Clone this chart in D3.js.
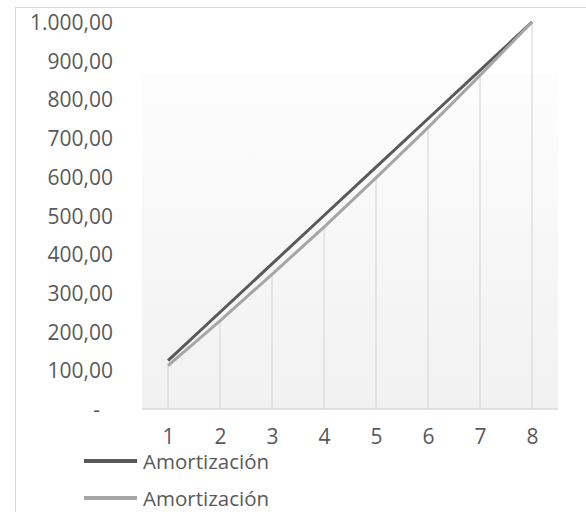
<!DOCTYPE html>
<html>
<head>
<meta charset="utf-8">
<script src="https://cdn.jsdelivr.net/npm/d3@7"></script>
<style>
  html, body { margin: 0; padding: 0; background: #ffffff; }
  svg { display: block; }
  text { font-family: "Open Sans", "Noto Sans", sans-serif; fill: #595959; }
</style>
</head>
<body>
<svg id="chart" width="586" height="512"></svg>
<script>
// Periods and cumulative amortization for the two schedules
const periods = [1, 2, 3, 4, 5, 6, 7, 8];
const amortLinear = [125, 250, 375, 500, 625, 750, 875, 1000];
const amortFrench = [112, 228, 348, 470, 597, 727, 862, 1000];
const seriesNames = ["Amortización", "Amortización"];
const yTicks = [0, 100, 200, 300, 400, 500, 600, 700, 800, 900, 1000];

const svg = d3.select("#chart");

// Outer chart frame
svg.append("rect")
  .attr("x", 15.5).attr("y", 7.5)
  .attr("width", 600).attr("height", 600)
  .attr("fill", "#ffffff")
  .attr("stroke", "#d9d9d9").attr("stroke-width", 1);

const x = d3.scalePoint().domain(periods).range([142, 558]).padding(0.5);
const y = d3.scaleLinear().domain([0, 1000]).range([409, 22]);

// Plot area fill with soft vertical gradient
const defs = svg.append("defs");
const grad = defs.append("linearGradient")
  .attr("id", "plotBg").attr("x1", 0).attr("y1", 0).attr("x2", 0).attr("y2", 1);
grad.append("stop").attr("offset", "0%").attr("stop-color", "#fdfdfd");
grad.append("stop").attr("offset", "100%").attr("stop-color", "#f1f1f1");

svg.append("rect")
  .attr("x", 142).attr("y", 74)
  .attr("width", 416).attr("height", y(0) - 74)
  .attr("fill", "url(#plotBg)");

// Drop lines from the second series down to the category axis
svg.append("g").selectAll("line")
  .data(periods)
  .join("line")
  .attr("x1", d => x(d)).attr("x2", d => x(d))
  .attr("y1", (d, i) => y(amortFrench[i]))
  .attr("y2", y(0))
  .attr("stroke", "#d9d9d9").attr("stroke-width", 1.2);

// Category axis
const xAxis = svg.append("g")
  .attr("transform", `translate(0,${y(0)})`)
  .call(d3.axisBottom(x).tickSize(0).tickPadding(26));
xAxis.select(".domain").attr("stroke", "#d9d9d9").attr("stroke-width", 1.5)
  .attr("d", `M142,0H558`);
xAxis.selectAll("text")
  .style("font-size", "21px").style("font-family", "\"Open Sans\", sans-serif")
  .attr("fill", "#595959").attr("dy", "0.42em");

// Value axis labels (accounting style: zero shown as a dash)
const fmt = v => v === 0 ? "-" :
  d3.format(",.2f")(v).replace(/,/g, "#").replace(".", ",").replace(/#/g, ".");
const yAxis = svg.append("g")
  .attr("transform", "translate(113,0)")
  .call(d3.axisLeft(y).tickValues(yTicks).tickFormat(fmt).tickSize(0).tickPadding(0));
yAxis.select(".domain").remove();
yAxis.selectAll("text")
  .style("font-size", "21px").style("font-family", "\"Open Sans\", sans-serif")
  .attr("fill", "#595959").attr("dy", "0.36em")
  .attr("dx", d => d === 0 ? -13 : 0);

// Series lines
const line = d3.line().x((d, i) => x(periods[i])).y(d => y(d));
svg.append("path")
  .datum(amortLinear)
  .attr("d", line)
  .attr("fill", "none").attr("stroke", "#595959")
  .attr("stroke-width", 3);
svg.append("path")
  .datum(amortFrench)
  .attr("d", line)
  .attr("fill", "none").attr("stroke", "#a6a6a6")
  .attr("stroke-width", 3);

// Legend
const legendColors = ["#595959", "#a6a6a6"];
const legend = svg.append("g");
const items = legend.selectAll("g")
  .data(seriesNames)
  .join("g")
  .attr("transform", (d, i) => `translate(0,${462 + i * 37})`);
items.append("line")
  .attr("x1", 84).attr("x2", 137).attr("y1", -1).attr("y2", -1)
  .attr("stroke", (d, i) => legendColors[i]).attr("stroke-width", 4);
items.append("text")
  .attr("x", 143).attr("y", 0).attr("dy", "0.36em")
  .style("font-size", "20.5px")
  .text(d => d);
</script>
</body>
</html>
